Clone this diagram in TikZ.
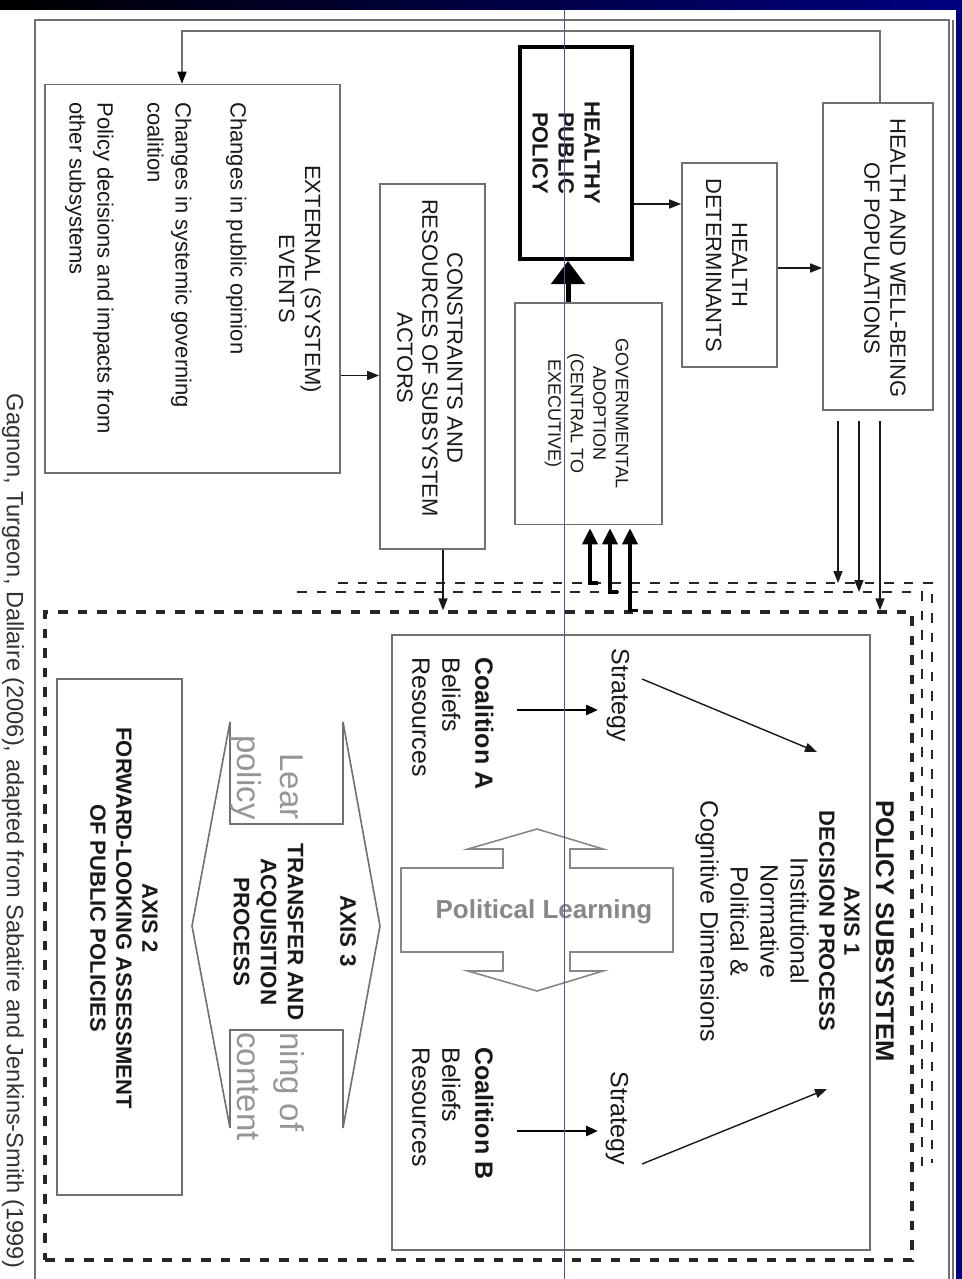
\documentclass[tikz,border=0pt]{standalone}
\usepackage{fontspec}
\setmainfont{Liberation Sans}
\usetikzlibrary{arrows.meta,fit}
\definecolor{navyc}{RGB}{0,0,128}
\definecolor{boxgray}{RGB}{112,112,112}
\definecolor{txt}{RGB}{25,25,25}
\definecolor{plgray}{RGB}{135,135,135}
\definecolor{fraggray}{RGB}{150,150,150}
\definecolor{guide}{RGB}{80,80,170}
\definecolor{capgray}{RGB}{50,50,50}
\newcommand{\fsz}[2]{\fontsize{#1}{#2}\selectfont}
\tikzset{
  box/.style={draw=boxgray, line width=0.8pt, inner sep=0pt},
  rot/.style={rotate=-90, inner sep=0pt, text=txt, align=center},
  arr/.style={draw=txt, line width=0.7pt, -{Triangle[length=6pt,width=4.5pt]}},
  garr/.style={draw=boxgray, line width=0.8pt, -{Triangle[length=6pt,width=4.5pt,color=black]}},
  carr/.style={draw=black, line width=1.3pt, -{Triangle[length=6pt,width=5pt]}},
  tarr/.style={draw=black, line width=1.75pt, -{Triangle[length=8pt,width=7.5pt]}},
  bigarr/.style={draw=black, line width=2.5pt, -{Triangle[length=11.5pt,width=16.5pt]}},
  dashmain/.style={draw=black!85, line width=1.6pt, dash pattern=on 4.75pt off 5pt, inner sep=0pt},
  dashsub/.style={draw=black!85, line width=1.4pt, dash pattern=on 4.75pt off 5pt},
  frag/.style={rotate=-90, inner sep=0pt, text=fraggray, font=\fsz{16.5}{19}}
}
\begin{document}
\begin{tikzpicture}[x=0.5pt,y=-0.5pt]
\useasboundingbox (0,0) rectangle (962,1279);
\fill[white] (0,0) rectangle (962,1279);
\shade[left color=black,right color=navyc] (0,0) rectangle (962,10);
\fill[navyc] (956,0) rectangle (962,1279);
% outer frame
\draw[boxgray, line width=0.8pt] (35,1285) -- (35,20) -- (949,20) -- (949,1285);
\draw[boxgray, line width=1pt] (953,20) -- (953,1285);

% boxes
\node[box, fit={(45,84.5)(340,473)}] (ext) {};
\node[box, fit={(380,184)(485,549)}] (con) {};
\node[box, draw=black, line width=2pt, fit={(520,47)(632,259)}] (hpp) {};
\node[box, fit={(682,163)(777,367)}] (hd) {};
\node[box, fit={(823,103)(933,410)}] (hwb) {};
\node[box, fit={(515,303)(662,524.5)}] (ga) {};
\node[box, fit={(392,635)(870,1250)}] (inner) {};
\node[box, fit={(57,679)(182,1195)}] (ax2) {};
\node[dashmain, fit={(45,612)(912,1260)}] (ps) {};

% open dashed frames
\coordinate (f1a) at (338,583); \coordinate (f1b) at (932,583); \coordinate (f1c) at (932,1163);
\coordinate (f2a) at (297,592); \coordinate (f2b) at (922,592); \coordinate (f2c) at (922,1175);
\draw[dashsub] (f1a) -- (f1b) -- (f1c);
\draw[dashsub] (f2a) -- (f2b) -- (f2c);

% texts in boxes
\node[rot, font=\fsz{11}{13}] (extT) at (300,279) {EXTERNAL (SYSTEM)\\EVENTS};
\node[rot, align=left, anchor=north west, font=\fsz{11}{14}] (extL) at (247,102)
  {Changes in public opinion\\[13.5pt]Changes in systemic governing\\coalition\\[11pt]Policy decisions and impacts from\\other subsystems};
\node[rot, font=\fsz{11}{12.5}] (conT) at (430,358) {CONSTRAINTS AND\\RESOURCES OF SUBSYSTEM\\ACTORS};
\node[rot, font=\bfseries\fsz{11}{13}] (hppT) at (566,153) {HEALTHY\\PUBLIC\\POLICY};
\node[rot, font=\fsz{11}{13}] (hdT) at (726.5,265) {HEALTH\\DETERMINANTS};
\node[rot, font=\fsz{11}{13}] (hwbT) at (885,258) {HEALTH AND WELL-BEING\\OF POPULATIONS};
\node[rot, font=\fsz{9}{11.25}] (gaT) at (586.5,413.5) {GOVERNMENTAL\\ADOPTION\\(CENTRAL TO\\EXECUTIVE)};

% policy subsystem texts
\node[rot, font=\bfseries\fsz{12.8}{15}] (psT) at (885,931) {POLICY SUBSYSTEM};
\node[rot, font=\bfseries\fsz{11}{12.5}] (ax1h) at (839.5,921) {AXIS 1\\DECISION PROCESS};
\node[rot, font=\fsz{12.5}{15}] (ax1t) at (752,921) {Institutional\\Normative\\Political \&\\Cognitive Dimensions};
\node[rot, font=\fsz{12.5}{15}] (sa) at (618,695) {Strategy};
\node[rot, font=\fsz{12.5}{15}] (sb) at (617,1118) {Strategy};
\node[rot, align=left, anchor=north west, font=\fsz{12.5}{15}] (ca) at (494,657) {\textbf{Coalition A}\\[1.5pt]Beliefs\\Resources};
\node[rot, align=left, anchor=north west, font=\fsz{12.5}{15}] (cb) at (494,1047) {\textbf{Coalition B}\\[1.5pt]Beliefs\\Resources};

% political learning double arrow
\draw[plgray, line width=0.8pt, fill=white] (537,829) -- (603,849) -- (570,849) -- (570,868) -- (673,868) -- (673,952) -- (570,952) -- (570,971) -- (603,971) -- (537,991) -- (468,971) -- (503,971) -- (503,952) -- (401,952) -- (401,868) -- (503,868) -- (503,849) -- (468,849) -- cycle;
\node[inner sep=0pt, text=plgray, font=\bfseries\fsz{13}{15}] (pl) at (544,912) {Political Learning};

% axis 3 shape
\draw[boxgray, line width=0.8pt] (230,722) -- (192,926) -- (230,1128) -- (230,1030) -- (343,1030) -- (343,1128) -- (380,926) -- (343,722) -- (343,824) -- (230,824) -- cycle;
\node[frag, anchor=base east] (fr1) at (280,820) {Lear};
\node[frag, anchor=base east] (fr2) at (237,820) {policy};
\node[frag, anchor=base west] (fr3) at (280,1032) {ning of};
\node[frag, anchor=base west] (fr4) at (237,1032) {content};
\node[rot, font=\bfseries\fsz{11.2}{13.5}] (ax3h) at (348,931) {AXIS 3};
\node[rot, font=\bfseries\fsz{11.2}{13.5}] (ax3t) at (268.5,932) {TRANSFER AND\\ACQUISITION\\PROCESS};

% axis 2
\node[rot, font=\bfseries\fsz{11}{13}] (ax2T) at (124,918) {AXIS 2\\FORWARD-LOOKING ASSESSMENT\\OF PUBLIC POLICIES};

% caption
\node[rot, text=capgray, font=\fsz{11.8}{14}] (cap) at (13,831) {Gagnon, Turgeon, Dallaire (2006), adapted from Sabatire and Jenkins-Smith (1999)};

% connectors
\coordinate (fbR) at (880,31); \coordinate (fbL) at (182,31);
\draw[garr] (hwb.north -| fbR) -- (fbR) -- (fbL) -- (ext.north -| fbL);
\coordinate (e2c) at (0,375.5);
\draw[arr] (ext.east |- e2c) -- (con.west |- e2c);
\coordinate (c2p) at (443,0);
\draw[arr] (con.south -| c2p) -- (ps.north -| c2p);
\coordinate (h2d) at (0,204);
\draw[arr] (hpp.east |- h2d) -- (hd.west |- h2d);
\coordinate (d2w) at (0,268);
\draw[arr] (hd.east |- d2w) -- (hwb.west |- d2w);
\coordinate (w1) at (838,0); \coordinate (w2) at (859,0); \coordinate (w3) at (880,0);
\draw[arr, shorten <=5pt] (hwb.south -| w1) -- (f1a -| w1);
\draw[arr, shorten <=5pt] (hwb.south -| w2) -- (f2a -| w2);
\draw[arr, shorten <=5pt] (hwb.south -| w3) -- (ps.north -| w3);
\coordinate (t1) at (590,0); \coordinate (t2) at (610,0); \coordinate (t3) at (630,0);
\draw[tarr, shorten >=1.5pt] ([xshift=4pt]f1a -| t1) -- (f1a -| t1) -- (ga.south -| t1);
\draw[tarr, shorten >=1.5pt] ([xshift=4pt]f2a -| t2) -- (f2a -| t2) -- (ga.south -| t2);
\draw[tarr, shorten >=1.5pt] ([xshift=4pt]ps.north -| t3) -- (ps.north -| t3) -- (ga.south -| t3);
\coordinate (g2h) at (568,0);
\draw[bigarr] (ga.north -| g2h) -- (hpp.south -| g2h);
\coordinate (caO) at (517,710); \coordinate (saI) at (598,710);
\coordinate (cbO) at (517,1131); \coordinate (sbI) at (598,1131);
\draw[carr] (caO) -- (saI);
\draw[carr] (cbO) -- (sbI);
\coordinate (saO) at (642,679); \coordinate (a1a) at (817,752);
\coordinate (sbO) at (642,1164); \coordinate (a1b) at (827,1089);
\draw[arr] (saO) -- (a1a);
\draw[arr] (sbO) -- (a1b);

% guide line
\draw[guide, line width=0.5pt] (564.5,10) -- (564.5,1279);
\end{tikzpicture}
\end{document}
